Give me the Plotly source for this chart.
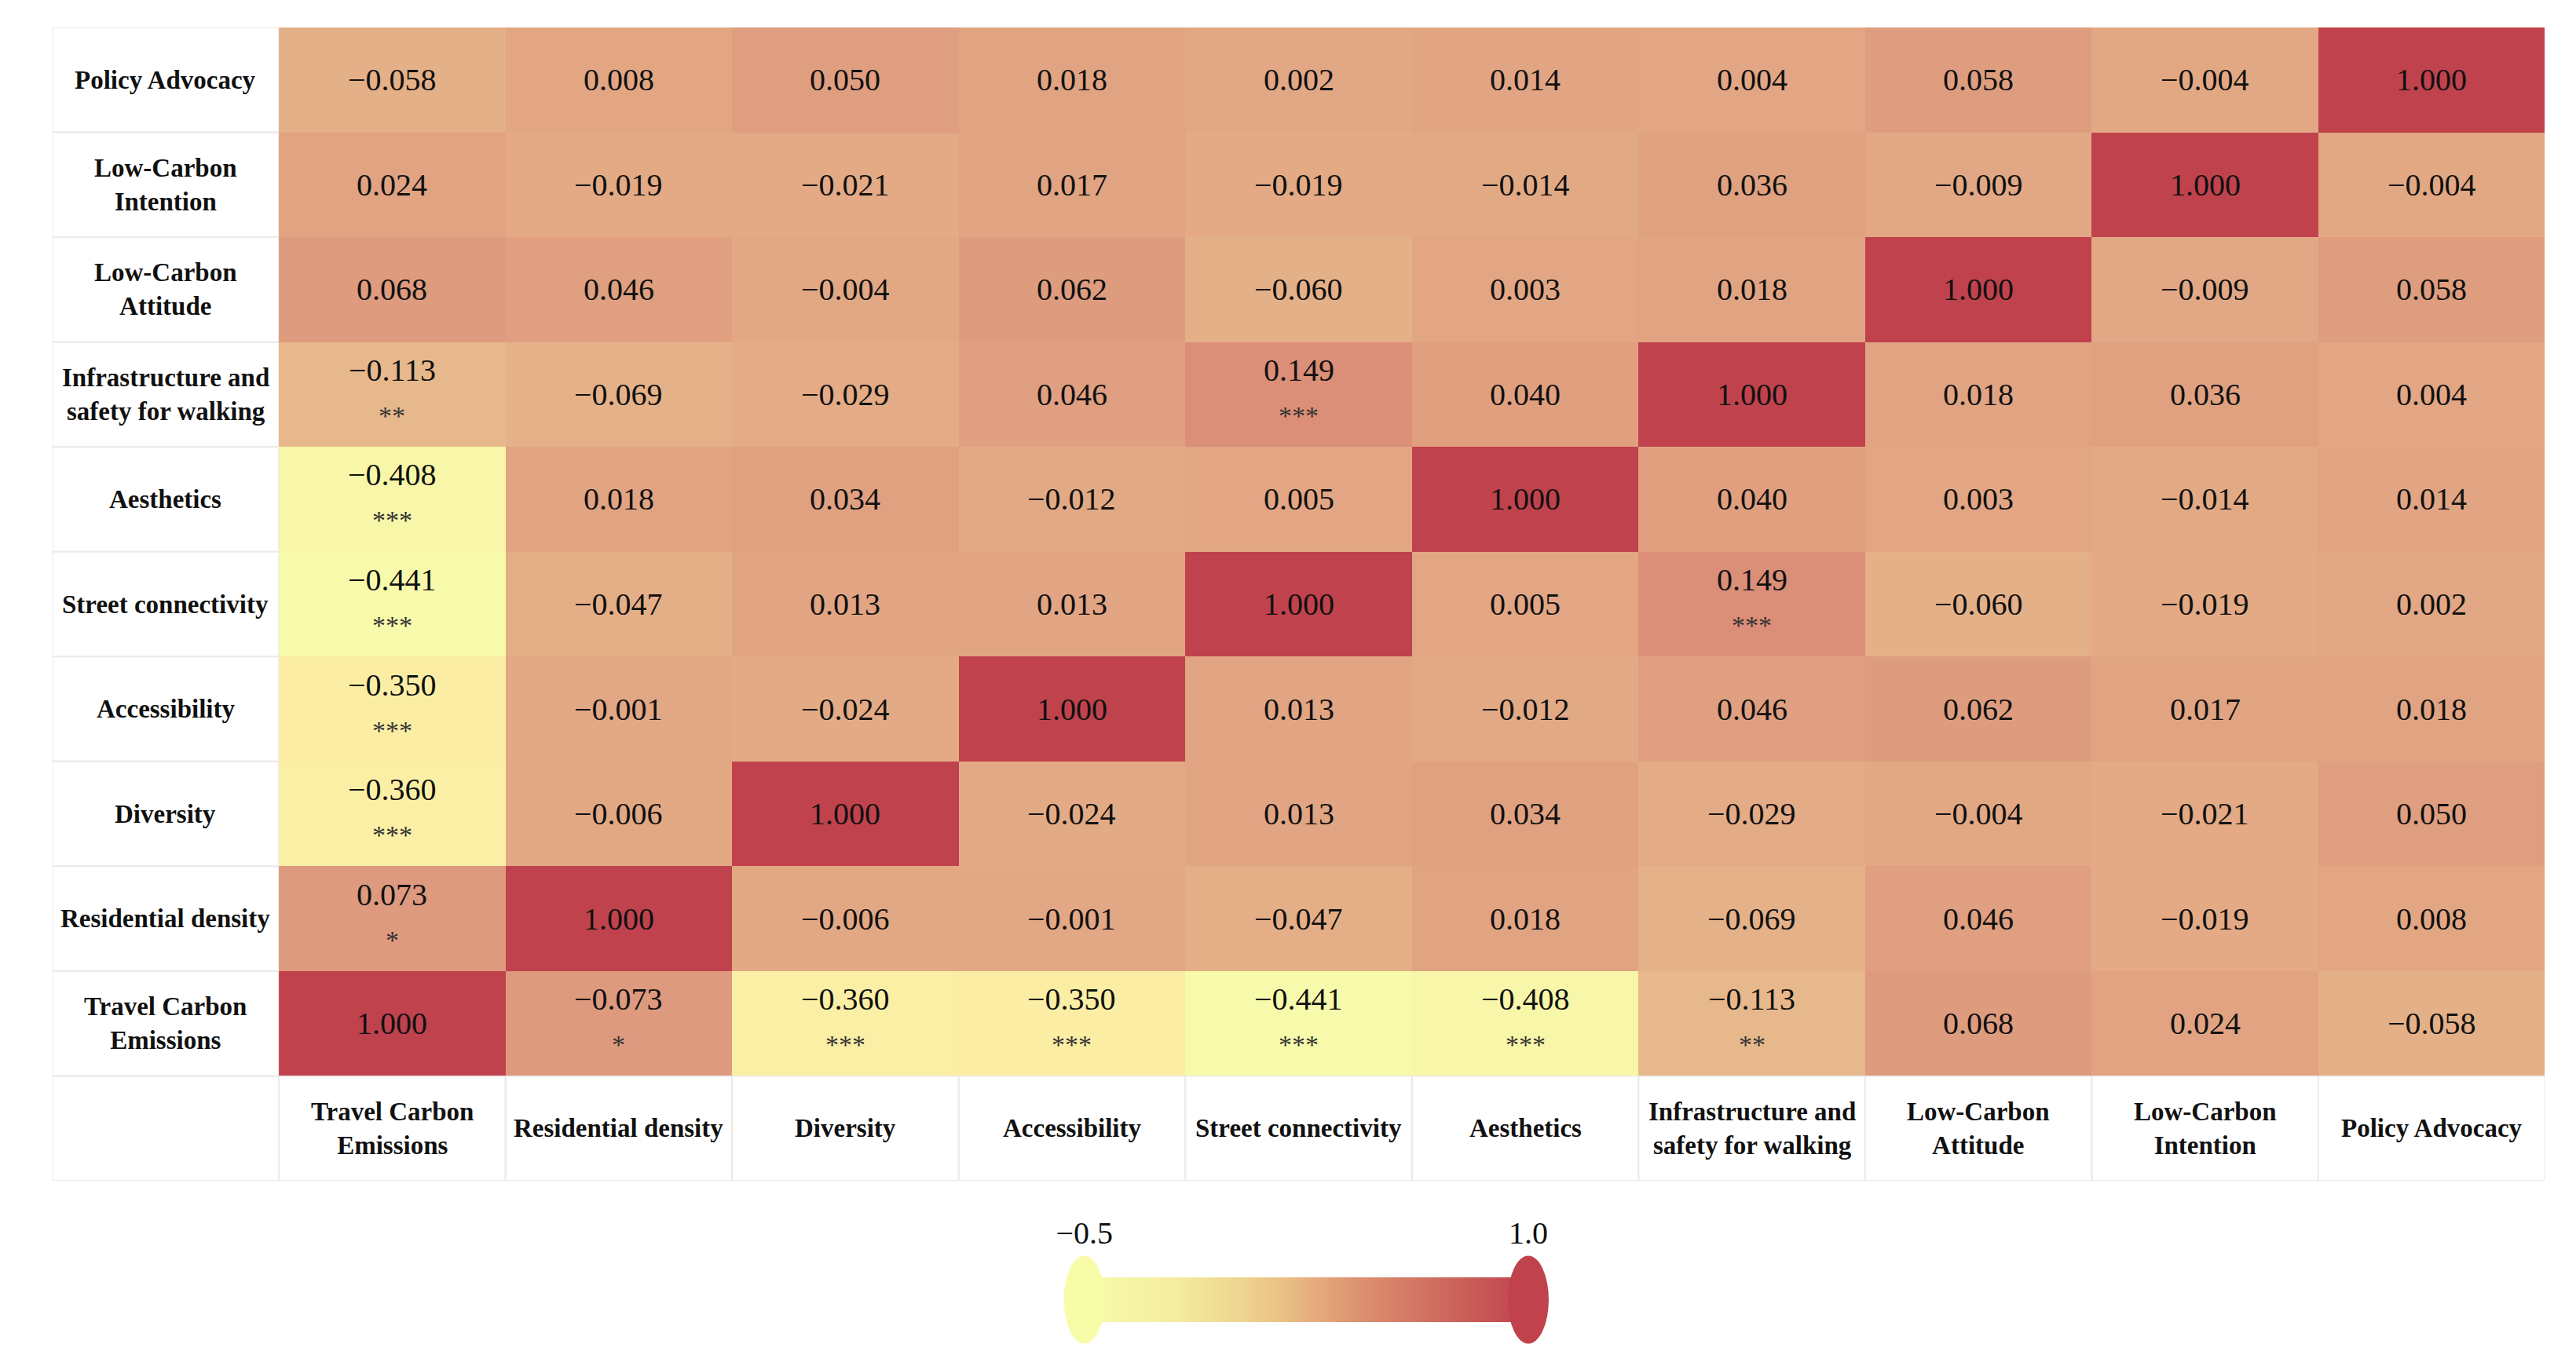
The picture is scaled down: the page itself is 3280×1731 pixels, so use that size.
import plotly.graph_objects as go

# ---------------- data ----------------
variables = [
    "Travel Carbon<br>Emissions",
    "Residential density",
    "Diversity",
    "Accessibility",
    "Street connectivity",
    "Aesthetics",
    "Infrastructure and<br>safety for walking",
    "Low-Carbon<br>Attitude",
    "Low-Carbon<br>Intention",
    "Policy Advocacy",
]

# correlation matrix: row i = variable i (drawn bottom to top), column j = variable j
corr = [
    [1.000, 0.073, -0.360, -0.350, -0.441, -0.408, -0.113, 0.068, 0.024, -0.058],
    [0.073, 1.000, -0.006, -0.001, -0.047, 0.018, -0.069, 0.046, -0.019, 0.008],
    [-0.360, -0.006, 1.000, -0.024, 0.013, 0.034, -0.029, -0.004, -0.021, 0.050],
    [-0.350, -0.001, -0.024, 1.000, 0.013, -0.012, 0.046, 0.062, 0.017, 0.018],
    [-0.441, -0.047, 0.013, 0.013, 1.000, 0.005, 0.149, -0.060, -0.019, 0.002],
    [-0.408, 0.018, 0.034, -0.012, 0.005, 1.000, 0.040, 0.003, -0.014, 0.014],
    [-0.113, -0.069, -0.029, 0.046, 0.149, 0.040, 1.000, 0.018, 0.036, 0.004],
    [0.068, 0.046, -0.004, 0.062, -0.060, 0.003, 0.018, 1.000, -0.009, 0.058],
    [0.024, -0.019, -0.021, 0.017, -0.019, -0.014, 0.036, -0.009, 1.000, -0.004],
    [-0.058, 0.008, 0.050, 0.018, 0.002, 0.014, 0.004, 0.058, -0.004, 1.000],
]

# value printed differently from the colour value in the source figure
printed_override = {(0, 1): -0.073}

stars = [
    ["", "*", "***", "***", "***", "***", "**", "", "", ""],
    ["*", "", "", "", "", "", "", "", "", ""],
    ["***", "", "", "", "", "", "", "", "", ""],
    ["***", "", "", "", "", "", "", "", "", ""],
    ["***", "", "", "", "", "", "***", "", "", ""],
    ["***", "", "", "", "", "", "", "", "", ""],
    ["**", "", "", "", "***", "", "", "", "", ""],
    ["", "", "", "", "", "", "", "", "", ""],
    ["", "", "", "", "", "", "", "", "", ""],
    ["", "", "", "", "", "", "", "", "", ""],
]

cb_ticks = [-0.5, 1.0]
cb_labels = ["\u22120.5", "1.0"]

# ---------------- styles ----------------
FONT = "Liberation Serif"
cell_scale = [
    [0.0, "#F7FCA8"],
    [0.0393, "#F7FAAA"],
    [0.1, "#FBEEA4"],
    [0.258, "#E6B88B"],
    [0.3333, "#E2A784"],
    [0.3787, "#DE9B7E"],
    [0.4327, "#DB8E78"],
    [1.0, "#C0424C"],
]
bar_scale = [
    [0.0, "#F7FCA8"],
    [0.2, "#F4EDA1"],
    [0.35, "#EFD590"],
    [0.45, "#EAC084"],
    [0.52, "#E5AC7E"],
    [0.62, "#DC9170"],
    [0.75, "#D27664"],
    [0.87, "#C85D58"],
    [1.0, "#C0424C"],
]
W, H = 3280, 1731
n = len(variables)
idx = list(range(n))
X2_DOMAIN = [1362 / W, 1938 / W]
Y2_DOMAIN = [55 / H, 112 / H]


def fmt(v):
    s = f"{abs(v):.3f}"
    return ("\u2212" + s) if v < 0 else s


def x2_to_paper(t):
    r0, r1 = cb_ticks[0], cb_ticks[-1]
    return X2_DOMAIN[0] + (t - r0) / (r1 - r0) * (X2_DOMAIN[1] - X2_DOMAIN[0])


fig = go.Figure()

fig.add_trace(go.Heatmap(
    z=corr, x=idx, y=idx, colorscale=cell_scale, zmin=cb_ticks[0], zmax=cb_ticks[1],
    showscale=False, hoverinfo="skip", xaxis="x", yaxis="y",
))

# colour bar drawn as a smooth heatmap on its own axis
fig.add_trace(go.Heatmap(
    z=[cb_ticks], x=cb_ticks, y=[0], colorscale=bar_scale, zmin=cb_ticks[0], zmax=cb_ticks[1],
    zsmooth="best", showscale=False, hoverinfo="skip", xaxis="x2", yaxis="y2",
))

annotations = []
shapes = []
for i in idx:
    for j in idx:
        v = printed_override.get((i, j), corr[i][j])
        st = stars[i][j]
        annotations.append(dict(
            x=j, y=i, xref="x", yref="y", text=fmt(v), showarrow=False,
            font=dict(family=FONT, size=40, color="#111111"),
            yshift=31 if st else 0,
        ))
        if st:
            annotations.append(dict(
                x=j, y=i, xref="x", yref="y", text=st, showarrow=False,
                font=dict(family=FONT, size=34, color="#333333"),
                yshift=-27,
            ))

# row labels (left column) and column labels (bottom row)
for k, name in enumerate(variables):
    annotations.append(dict(
        x=-1, y=k, xref="x", yref="y", text=f"<b>{name}</b>", showarrow=False,
        font=dict(family=FONT, size=33, color="#111111"),
    ))
    annotations.append(dict(
        x=k, y=-1, xref="x", yref="y", text=f"<b>{name}</b>", showarrow=False,
        font=dict(family=FONT, size=33, color="#111111"),
    ))
    shapes.append(dict(type="rect", xref="x", yref="y", x0=-1.5, x1=-0.5, y0=k - 0.5, y1=k + 0.5,
                       line=dict(color="#EBEBEB", width=2), layer="below"))
    shapes.append(dict(type="rect", xref="x", yref="y", x0=k - 0.5, x1=k + 0.5, y0=-1.5, y1=-0.5,
                       line=dict(color="#EBEBEB", width=2), layer="below"))
shapes.append(dict(type="rect", xref="x", yref="y", x0=-1.5, x1=-0.5, y0=-1.5, y1=-0.5,
                   line=dict(color="#EBEBEB", width=2), layer="below"))

# rounded end caps of the colour bar (paper refs so they are not clipped)
bar_mid_y = (Y2_DOMAIN[0] + Y2_DOMAIN[1]) / 2
for t, col in zip(cb_ticks, [bar_scale[0][1], bar_scale[-1][1]]):
    shapes.append(dict(
        type="circle", xref="paper", yref="paper", xsizemode="pixel", ysizemode="pixel",
        xanchor=x2_to_paper(t), yanchor=bar_mid_y, x0=-26, x1=26, y0=-56, y1=56,
        fillcolor=col, line=dict(width=0), layer="above",
    ))

fig.update_layout(
    width=W, height=H,
    margin=dict(l=0, r=0, t=0, b=0),
    paper_bgcolor="white", plot_bgcolor="white",
    showlegend=False,
    xaxis=dict(domain=[23 / W, 3257 / W], range=[-1.5, n - 0.5], visible=False, fixedrange=True),
    yaxis=dict(domain=[1 - 1496 / H, 1 - 27 / H], range=[-1.5, n - 0.5], visible=False, fixedrange=True),
    xaxis2=dict(domain=X2_DOMAIN, range=[cb_ticks[0], cb_ticks[1]], anchor="y2",
                tickvals=cb_ticks, ticktext=cb_labels, side="top", ticks="",
                showgrid=False, zeroline=False, showline=False, ticklabelstandoff=34,
                tickfont=dict(family=FONT, size=40, color="#111111")),
    yaxis2=dict(domain=Y2_DOMAIN, range=[-0.5, 0.5], visible=False, anchor="x2"),
    annotations=annotations,
    shapes=shapes,
)

fig.write_html("out.html")
